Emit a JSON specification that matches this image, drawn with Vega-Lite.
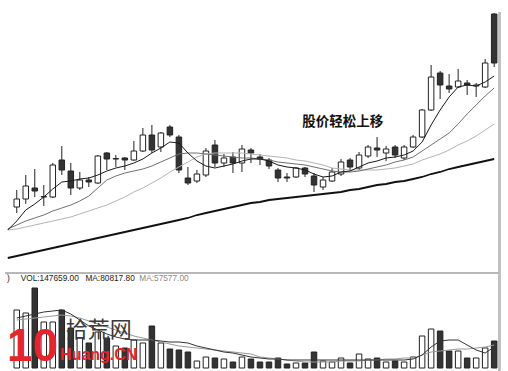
{
 "$schema": "https://vega.github.io/schema/vega-lite/v6.json",
 "padding": 0,
 "autosize": {"type": "pad"},
 "background": "white",
 "spacing": 0,
 "bounds": "flush",
 "config": {"view": {"stroke": null}},
 "datasets": {
  "k": [
   {"i":0,"m5":9.75,"m10":10,"m20":9.75,"m60":2.75},
   {"i":1,"o":15.5,"h":19.75,"l":14,"c":17.5,"m5":12,"m10":11,"m20":10,"m60":3.25,"v":290000,"vm5":250000,"vm10":240000},
   {"i":2,"o":17.5,"h":23.5,"l":16.25,"c":20.75,"m5":14.75,"m10":12,"m20":10.5,"m60":3.75,"v":275000,"vm5":260000,"vm10":245000},
   {"i":3,"o":20.25,"h":25,"l":18,"c":19.5,"m5":16.25,"m10":12.75,"m20":11,"m60":4.25,"v":400000,"vm5":270000,"vm10":250000},
   {"i":4,"o":18,"h":21,"l":15.75,"c":18.1,"m5":18,"m10":13.5,"m20":11.5,"m60":4.75,"v":230000,"vm5":280000,"vm10":255000},
   {"i":5,"o":18,"h":26.5,"l":17.75,"c":26,"m5":20,"m10":14.5,"m20":12,"m60":5.25,"v":230000,"vm5":285000,"vm10":260000},
   {"i":6,"o":27.25,"h":30.75,"l":23.5,"c":24.75,"m5":21.75,"m10":15.25,"m20":12.5,"m60":5.75,"v":290000,"vm5":290000,"vm10":265000},
   {"i":7,"o":24.5,"h":26.5,"l":18.5,"c":20.25,"m5":22,"m10":16,"m20":13,"m60":6.25,"v":200000,"vm5":270000,"vm10":260000},
   {"i":8,"o":20.25,"h":24.25,"l":19.75,"c":22.25,"m5":22.5,"m10":17,"m20":13.75,"m60":6.75,"v":150000,"vm5":240000,"vm10":250000},
   {"i":9,"o":22.25,"h":23,"l":20.5,"c":21.75,"m5":22.75,"m10":18.25,"m20":14.5,"m60":7.25,"v":125000,"vm5":210000,"vm10":235000},
   {"i":10,"o":21.5,"h":28.5,"l":21.25,"c":28.25,"m5":23.5,"m10":20.25,"m20":15.25,"m60":7.75,"v":180000,"vm5":190000,"vm10":220000},
   {"i":11,"o":29,"h":29.25,"l":24.75,"c":27.5,"m5":24.5,"m10":22.25,"m20":16,"m60":8.25,"v":150000,"vm5":170000,"vm10":205000},
   {"i":12,"o":27.5,"h":28.5,"l":25.5,"c":27.6,"m5":25.25,"m10":23.25,"m20":17,"m60":8.75,"v":110000,"vm5":155000,"vm10":190000},
   {"i":13,"o":27.75,"h":28,"l":24.75,"c":27.25,"m5":25.75,"m10":24,"m20":18,"m60":9.25,"v":100000,"vm5":145000,"vm10":175000},
   {"i":14,"o":27.25,"h":32,"l":27,"c":29.5,"m5":26.5,"m10":24.5,"m20":19.25,"m60":9.75,"v":140000,"vm5":140000,"vm10":160000},
   {"i":15,"o":29.5,"h":35.25,"l":29.25,"c":33.5,"m5":27.5,"m10":25,"m20":20.25,"m60":10.25,"v":125000,"vm5":140000,"vm10":150000},
   {"i":16,"o":33.5,"h":36,"l":29,"c":29.75,"m5":29,"m10":25.75,"m20":21.5,"m60":10.75,"v":210000,"vm5":140000,"vm10":140000},
   {"i":17,"o":30.5,"h":34.25,"l":29.25,"c":34,"m5":30.25,"m10":26.75,"m20":22.75,"m60":11.25,"v":125000,"vm5":135000,"vm10":130000},
   {"i":18,"o":35.5,"h":36,"l":33,"c":33.5,"m5":31.75,"m10":27.75,"m20":24.25,"m60":11.75,"v":95000,"vm5":130000,"vm10":120000},
   {"i":19,"o":33,"h":33.5,"l":24,"c":24.75,"m5":31.5,"m10":28.75,"m20":25.5,"m60":12.25,"v":90000,"vm5":130000,"vm10":110000},
   {"i":20,"o":22.75,"h":25.5,"l":21,"c":21.5,"m5":29,"m10":29,"m20":26.75,"m60":12.75,"v":80000,"vm5":125000,"vm10":105000},
   {"i":21,"o":22,"h":24.75,"l":21.5,"c":23.75,"m5":27,"m10":29,"m20":28,"m60":13.5,"v":35000,"vm5":110000,"vm10":100000},
   {"i":22,"o":23.5,"h":30.25,"l":23,"c":29.5,"m5":25.75,"m10":28.75,"m20":28.75,"m60":14,"v":55000,"vm5":100000,"vm10":95000},
   {"i":23,"o":31,"h":32.25,"l":25.5,"c":26.5,"m5":25.25,"m10":28.5,"m20":29,"m60":14.5,"v":50000,"vm5":90000,"vm10":90000},
   {"i":24,"o":26.5,"h":28.75,"l":25.5,"c":27.75,"m5":25.75,"m10":28.25,"m20":29,"m60":15,"v":45000,"vm5":80000,"vm10":85000},
   {"i":25,"o":28,"h":29.25,"l":24,"c":26.5,"m5":26.25,"m10":28,"m20":29,"m60":15.5,"v":30000,"vm5":75000,"vm10":80000},
   {"i":26,"o":26.5,"h":31,"l":24.25,"c":30,"m5":27,"m10":27.75,"m20":29,"m60":16,"v":55000,"vm5":65000,"vm10":75000},
   {"i":27,"o":29.75,"h":30.25,"l":26.5,"c":29,"m5":27.5,"m10":27.75,"m20":28.75,"m60":16.5,"v":45000,"vm5":55000,"vm10":70000},
   {"i":28,"o":28,"h":28.75,"l":26,"c":27.5,"m5":27.5,"m10":27.5,"m20":28.5,"m60":16.75,"v":30000,"vm5":50000,"vm10":55000},
   {"i":29,"o":27.25,"h":27.75,"l":25,"c":25.75,"m5":27,"m10":27.25,"m20":28.25,"m60":17.25,"v":30000,"vm5":45000,"vm10":50000},
   {"i":30,"o":24.75,"h":25.25,"l":21.75,"c":22.75,"m5":26,"m10":26.75,"m20":28,"m60":17.5,"v":50000,"vm5":45000,"vm10":45000},
   {"i":31,"o":23,"h":24,"l":21.75,"c":22.75,"m5":25.5,"m10":26.5,"m20":27.75,"m60":17.75,"v":20000,"vm5":40000,"vm10":40000},
   {"i":32,"o":23,"h":25.5,"l":22.75,"c":25.25,"m5":25.25,"m10":26.25,"m20":27.25,"m60":18,"v":25000,"vm5":40000,"vm10":35000},
   {"i":33,"o":25.25,"h":25.5,"l":23,"c":23.75,"m5":24.75,"m10":26,"m20":27,"m60":18.25,"v":25000,"vm5":40000,"vm10":30000},
   {"i":34,"o":23.25,"h":24,"l":19.25,"c":21,"m5":23.75,"m10":25.5,"m20":26.5,"m60":18.5,"v":80000,"vm5":40000,"vm10":30000},
   {"i":35,"o":20.5,"h":23,"l":19.75,"c":22.25,"m5":23,"m10":25,"m20":26,"m60":18.75,"v":35000,"vm5":40000,"vm10":30000},
   {"i":36,"o":22,"h":25.25,"l":21.75,"c":24.25,"m5":23.25,"m10":24.5,"m20":25.25,"m60":19,"v":30000,"vm5":40000,"vm10":30000},
   {"i":37,"o":23.75,"h":27.5,"l":23.25,"c":26.75,"m5":24.25,"m10":24.25,"m20":25,"m60":19.25,"v":50000,"vm5":40000,"vm10":35000},
   {"i":38,"o":27.25,"h":27.75,"l":24.5,"c":25.5,"m5":24.5,"m10":24.25,"m20":24.75,"m60":19.75,"v":25000,"vm5":40000,"vm10":35000},
   {"i":39,"o":25.25,"h":29.25,"l":24.75,"c":28.5,"m5":25.5,"m10":24.5,"m20":24.75,"m60":20,"v":70000,"vm5":40000,"vm10":35000},
   {"i":40,"o":28.25,"h":31,"l":27.75,"c":30.5,"m5":26.5,"m10":25,"m20":24.75,"m60":20.5,"v":45000,"vm5":40000,"vm10":40000},
   {"i":41,"o":30.25,"h":33,"l":28,"c":29.75,"m5":27,"m10":25.5,"m20":24.75,"m60":21,"v":50000,"vm5":40000,"vm10":40000},
   {"i":42,"o":29,"h":30.75,"l":27,"c":30,"m5":27.75,"m10":26,"m20":25,"m60":21.25,"v":30000,"vm5":40000,"vm10":45000},
   {"i":43,"o":30.5,"h":31,"l":27.75,"c":28.5,"m5":28,"m10":26.75,"m20":25.25,"m60":21.75,"v":35000,"vm5":40000,"vm10":45000},
   {"i":44,"o":27.75,"h":31,"l":27.25,"c":30.5,"m5":28.5,"m10":27.25,"m20":25.75,"m60":22,"v":30000,"vm5":40000,"vm10":50000},
   {"i":45,"o":30.5,"h":33.5,"l":30.25,"c":33,"m5":29.5,"m10":28,"m20":26.25,"m60":22.5,"v":55000,"vm5":45000,"vm10":50000},
   {"i":46,"o":33,"h":40,"l":32.75,"c":39.75,"m5":31.75,"m10":29.5,"m20":27.25,"m60":23,"v":160000,"vm5":65000,"vm10":65000},
   {"i":47,"o":39.75,"h":51,"l":39.5,"c":48,"m5":36,"m10":31,"m20":28,"m60":23.75,"v":195000,"vm5":105000,"vm10":80000},
   {"i":48,"o":49,"h":49.5,"l":42.5,"c":46,"m5":39.75,"m10":32.5,"m20":28.75,"m60":24.25,"v":185000,"vm5":135000,"vm10":85000},
   {"i":49,"o":45.75,"h":48.75,"l":44,"c":45,"m5":43,"m10":34,"m20":29.75,"m60":25,"v":85000,"vm5":140000,"vm10":90000},
   {"i":50,"o":45.5,"h":50,"l":45.25,"c":47,"m5":45.5,"m10":36.25,"m20":31,"m60":25.5,"v":85000,"vm5":140000,"vm10":95000},
   {"i":51,"o":46.5,"h":47.25,"l":43.5,"c":46,"m5":46,"m10":38.75,"m20":32,"m60":26,"v":50000,"vm5":115000,"vm10":95000},
   {"i":52,"o":45.75,"h":46.5,"l":43,"c":46,"m5":45.75,"m10":41,"m20":33.25,"m60":26.5,"v":50000,"vm5":90000,"vm10":100000},
   {"i":53,"o":45.5,"h":52.5,"l":45.25,"c":51.5,"m5":46.75,"m10":43.25,"m20":34.75,"m60":27,"v":100000,"vm5":75000,"vm10":105000},
   {"i":54,"o":63.75,"h":64,"l":50.5,"c":51.5,"m5":48.25,"m10":45.25,"m20":36.25,"m60":27.5,"v":135000,"vm5":105000,"vm10":115000}
  ]
 },
 "vconcat": [
  {
   "width": 508,
   "height": 273,
   "data": {"name": "k"},
   "encoding": {
    "x": {"field": "i", "type": "quantitative", "scale": {"domain": [-0.306, 54.98], "nice": false, "zero": false}, "axis": null}
   },
   "layer": [
    {
     "data": {"values": [{"g": 11}, {"g": 22}, {"g": 33}, {"g": 44}, {"g": 55}]},
     "mark": {"type": "rule", "color": "#bdbdbd", "strokeWidth": 1, "strokeDash": [1, 1]},
     "encoding": {
      "x": {"datum": 0.35, "type": "quantitative"},
      "x2": {"datum": 54.45},
      "y": {"field": "g", "type": "quantitative", "scale": {"domain": [-1, 67.25], "nice": false, "zero": false}, "axis": null}
     }
    },
    {
     "mark": {"type": "rule", "color": "#c0c0c0", "strokeWidth": 1.5},
     "encoding": {
      "x": {"datum": 54.6, "type": "quantitative"},
      "y": {"datum": 64.2, "type": "quantitative", "scale": {"domain": [-1, 67.25], "nice": false, "zero": false}, "axis": null},
      "y2": {"datum": -1}
     }
    },
    {
     "mark": {"type": "rule", "color": "#222222", "strokeWidth": 1},
     "encoding": {
      "y": {"field": "l", "type": "quantitative", "scale": {"domain": [-1, 67.25], "nice": false, "zero": false}, "axis": null},
      "y2": {"field": "h"}
     }
    },
    {
     "mark": {"type": "bar", "width": 5.5, "stroke": "#222222", "strokeWidth": 1},
     "encoding": {
      "y": {"field": "o", "type": "quantitative", "scale": {"domain": [-1, 67.25], "nice": false, "zero": false}, "axis": null},
      "y2": {"field": "c"},
      "fill": {"condition": {"test": "datum.c < datum.o", "value": "#333333"}, "value": "#ffffff"}
     }
    },
    {
     "mark": {"type": "line", "color": "#b4b4b4", "strokeWidth": 1},
     "encoding": {"y": {"field": "m20", "type": "quantitative", "scale": {"domain": [-1, 67.25], "nice": false, "zero": false}, "axis": null}}
    },
    {
     "mark": {"type": "line", "color": "#707070", "strokeWidth": 1},
     "encoding": {"y": {"field": "m10", "type": "quantitative", "scale": {"domain": [-1, 67.25], "nice": false, "zero": false}, "axis": null}}
    },
    {
     "mark": {"type": "line", "color": "#1a1a1a", "strokeWidth": 1},
     "encoding": {"y": {"field": "m5", "type": "quantitative", "scale": {"domain": [-1, 67.25], "nice": false, "zero": false}, "axis": null}}
    },
    {
     "mark": {"type": "line", "color": "#111111", "strokeWidth": 1.8},
     "encoding": {"y": {"field": "m60", "type": "quantitative", "scale": {"domain": [-1, 67.25], "nice": false, "zero": false}, "axis": null}}
    },
    {
     "data": {"values": [{"i": 37.18, "p": 36.75, "t": "股价轻松上移"}]},
     "mark": {"type": "text", "font": "Noto Sans CJK SC", "fontWeight": "bold", "fontSize": 13.5, "color": "#111111", "align": "center", "baseline": "middle"},
     "encoding": {
      "y": {"field": "p", "type": "quantitative", "scale": {"domain": [-1, 67.25], "nice": false, "zero": false}, "axis": null},
      "text": {"field": "t"}
     }
    }
   ]
  },
  {
   "width": 508,
   "height": 98,
   "data": {"name": "k"},
   "encoding": {
    "x": {"field": "i", "type": "quantitative", "scale": {"domain": [-0.306, 54.98], "nice": false, "zero": false}, "axis": null}
   },
   "layer": [
    {
     "data": {"values": [{"g": 150000}, {"g": 300000}]},
     "mark": {"type": "rule", "color": "#bdbdbd", "strokeWidth": 1, "strokeDash": [1, 1]},
     "encoding": {
      "x": {"datum": 0.35, "type": "quantitative"},
      "x2": {"datum": 54.45},
      "y": {"field": "g", "type": "quantitative", "scale": {"domain": [-15000, 475000], "nice": false, "zero": false}, "axis": null}
     }
    },
    {
     "mark": {"type": "rule", "color": "#b8b8b8", "strokeWidth": 1.5},
     "encoding": {
      "x": {"datum": -0.306, "type": "quantitative"},
      "x2": {"datum": 54.6},
      "y": {"datum": 474000, "type": "quantitative", "scale": {"domain": [-15000, 475000], "nice": false, "zero": false}, "axis": null}
     }
    },
    {
     "mark": {"type": "rule", "color": "#c0c0c0", "strokeWidth": 1.5},
     "encoding": {
      "x": {"datum": 54.6, "type": "quantitative"},
      "y": {"datum": 474000, "type": "quantitative", "scale": {"domain": [-15000, 475000], "nice": false, "zero": false}, "axis": null},
      "y2": {"datum": -15000}
     }
    },
    {
     "mark": {"type": "bar", "width": 5.5, "stroke": "#222222", "strokeWidth": 1},
     "encoding": {
      "y": {"field": "v", "type": "quantitative", "scale": {"domain": [-15000, 475000], "nice": false, "zero": false}, "axis": null},
      "y2": {"datum": 0},
      "fill": {"condition": {"test": "datum.c < datum.o", "value": "#333333"}, "value": "#ffffff"}
     }
    },
    {
     "mark": {"type": "line", "color": "#999999", "strokeWidth": 1},
     "encoding": {"y": {"field": "vm10", "type": "quantitative", "scale": {"domain": [-15000, 475000], "nice": false, "zero": false}, "axis": null}}
    },
    {
     "mark": {"type": "line", "color": "#333333", "strokeWidth": 1},
     "encoding": {"y": {"field": "vm5", "type": "quantitative", "scale": {"domain": [-15000, 475000], "nice": false, "zero": false}, "axis": null}}
    },
    {
     "data": {"values": [{"i": -0.088, "v": 445000, "t": ")"}, {"i": 1.435, "v": 445000, "t": "VOL:147659.00"}, {"i": 8.62, "v": 445000, "t": "MA:80817.80"}]},
     "mark": {"type": "text", "font": "Liberation Sans", "fontSize": 8.3, "color": "#222222", "align": "left", "baseline": "middle"},
     "encoding": {
      "y": {"field": "v", "type": "quantitative", "scale": {"domain": [-15000, 475000], "nice": false, "zero": false}, "axis": null},
      "text": {"field": "t"}
     }
    },
    {
     "data": {"values": [{"i": 14.6, "v": 445000, "t": "MA:57577.00"}]},
     "mark": {"type": "text", "font": "Liberation Sans", "fontSize": 8.3, "color": "#8a8a8a", "align": "left", "baseline": "middle"},
     "encoding": {
      "y": {"field": "v", "type": "quantitative", "scale": {"domain": [-15000, 475000], "nice": false, "zero": false}, "axis": null},
      "text": {"field": "t"}
     }
    },
    {
     "data": {"values": [{"i": 2.75, "v": -15000, "t": "10"}]},
     "mark": {"type": "text", "font": "Liberation Sans", "fontWeight": "bold", "fontSize": 46, "color": "#e3262b", "align": "center", "baseline": "bottom"},
     "encoding": {
      "y": {"field": "v", "type": "quantitative", "scale": {"domain": [-15000, 475000], "nice": false, "zero": false}, "axis": null},
      "text": {"field": "t"}
     }
    },
    {
     "data": {"values": [{"i": 10.1, "v": 190000, "t": "拾荒网"}]},
     "mark": {"type": "text", "font": "Noto Sans CJK SC", "fontSize": 22, "color": "#3a3a3a", "align": "center", "baseline": "middle"},
     "encoding": {
      "y": {"field": "v", "type": "quantitative", "scale": {"domain": [-15000, 475000], "nice": false, "zero": false}, "axis": null},
      "text": {"field": "t"}
     }
    },
    {
     "data": {"values": [{"i": 10.1, "v": 40000, "t": "Huang.CN"}]},
     "mark": {"type": "text", "font": "Liberation Sans", "fontWeight": "bold", "fontSize": 16, "color": "#e3262b", "align": "center", "baseline": "alphabetic"},
     "encoding": {
      "y": {"field": "v", "type": "quantitative", "scale": {"domain": [-15000, 475000], "nice": false, "zero": false}, "axis": null},
      "text": {"field": "t"}
     }
    }
   ]
  }
 ]
}
